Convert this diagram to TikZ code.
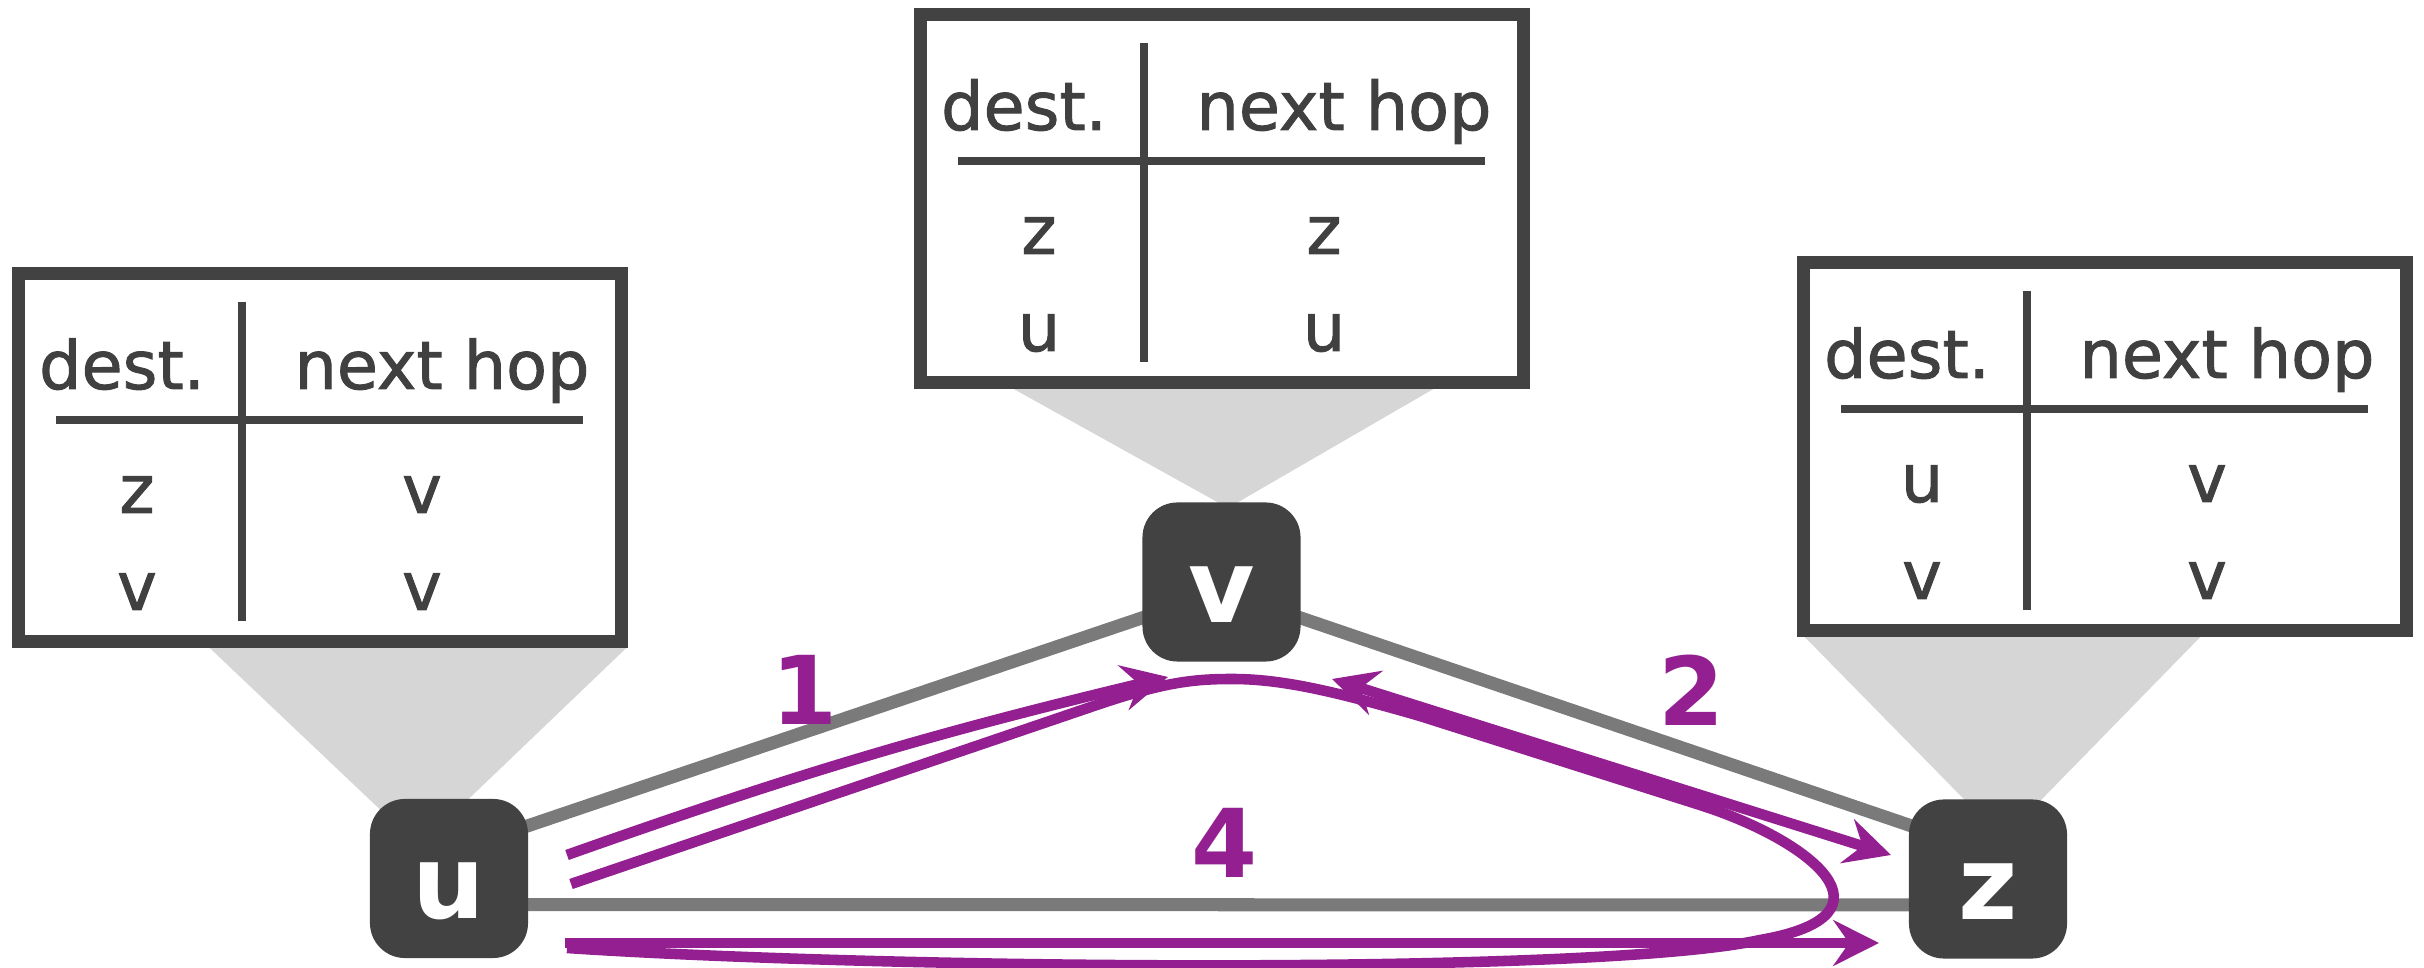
\documentclass[tikz,border=0pt]{standalone}
\usepackage{fontspec}
\setmainfont{DejaVu Sans}
\newfontfamily\handfont{DejaVu Sans}[FakeBold=1.4]
\usetikzlibrary{arrows.meta, calc, backgrounds}

\definecolor{nodegray}{HTML}{424242}
\definecolor{edgegray}{HTML}{7A7A7A}
\definecolor{shadegray}{HTML}{D6D6D6}
\definecolor{hoppurple}{HTML}{931F91}
\definecolor{textgray}{HTML}{404040}

\tikzset{
  tablebox/.style={draw=nodegray, line width=3.7pt, fill=white,
                   minimum width=6.03cm, minimum height=3.68cm, inner sep=0pt},
  tableline/.style={draw=nodegray, line width=2.1pt},
  celltext/.style={anchor=base, inner sep=0pt, text=textgray,
                   font=\fontsize{19}{19}\handfont},
  router/.style={fill=nodegray, rounded corners=0.35cm,
                 minimum width=1.58cm, minimum height=1.59cm, inner sep=0pt,
                 text=white, font=\fontsize{29}{29}\selectfont\bfseries,
                 text height=0.8cm, text depth=0pt},
  link/.style={draw=edgegray, line width=3.7pt},
  hop/.style={draw=hoppurple, line width=3pt},
  hoplabel/.style={inner sep=0pt, text=hoppurple,
                   font=\fontsize{27}{27}\selectfont\bfseries}
}

\begin{document}
\begin{tikzpicture}[x=0.01cm, y=-0.01cm,
  >={Stealth[length=13pt, width=13pt, inset=4.5pt]}]

\useasboundingbox (0,0) rectangle (2424,968);

% routing tables
\foreach \tab/\ox/\oy/\da/\ha/\db/\hb in {
  tu/12/267/z/v/v/v,
  tv/914/8/z/z/u/u,
  tz/1797/256/u/v/v/v
}{
  \node[tablebox] (\tab) at ({\ox+308},{\oy+190.5}) {};
  \draw[tableline] ({\ox+230},{\oy+35}) -- ({\ox+230},{\oy+354});
  \draw[tableline] ({\ox+44},{\oy+153}) -- ({\ox+571},{\oy+153});
  \node[celltext] (\tab-dest) at ({\ox+110},{\oy+122}) {dest.};
  \node[celltext] (\tab-hop) at ({\ox+430},{\oy+122}) {next hop};
  \node[celltext] (\tab-d1) at ({\ox+125},{\oy+246}) {\da};
  \node[celltext] (\tab-h1) at ({\ox+410},{\oy+246}) {\ha};
  \node[celltext] (\tab-d2) at ({\ox+125},{\oy+343}) {\db};
  \node[celltext] (\tab-h2) at ({\ox+410},{\oy+343}) {\hb};
}

% routers
\node[router] (u) at (449,878.5) {u};
\node[router] (v) at (1221.5,582) {v};
\node[router] (z) at (1988,879) {z};

\begin{scope}[on background layer]
  \fill[shadegray] ($(tu.south west)+(198,0)$) -- ($(tu.south east)+(-2,0)$)
    -- ($(u.center)+(-30,-32)$) -- cycle;
  \fill[shadegray] ($(tv.south west)+(100,0)$) -- ($(tv.south east)+(-97,0)$)
    -- ($(v.center)+(6.5,-74)$) -- cycle;
  \fill[shadegray] ($(tz.south west)+(8,0)$) -- ($(tz.south east)+(-213,0)$)
    -- ($(z.center)+(15,-40)$) -- cycle;

  \draw[link] ($(u.center)+(0,-26)$) -- ($(v.center)+(0,9)$)
    -- ($(z.center)+(0,-27)$);
  \draw[link] ($(u.center)+(0,26)$) -- ($(z.center)+(0,26)$);
\end{scope}

% packet path
\coordinate (uA) at (567,855);
\coordinate (uB) at (571,884);
\coordinate (uC) at (565,943);
\coordinate (vL) at (1168,677);
\coordinate (vR) at (1332,679);
\coordinate (zA) at (1891,855);
\coordinate (zB) at (1879,943);

\draw[hop, ->] (uA) to[bend left=3] (vL);
\draw[hop, <->] (vR) -- (zA);
\draw[hop] (uB) -- (1085,709) .. controls (1160,683) and (1190,679) .. (1232,679)
  .. controls (1280,679) and (1330,690) .. (1420,716) -- (1700,805)
  .. controls (1810,840) and (1905,915) .. (1760,940)
  .. controls (1600,975) and (900,970) .. (567,948);
\draw[hop, ->] (uC) -- (zB);

\node[hoplabel] (n1) at (805,690) {1};
\node[hoplabel] (n2) at (1692,690) {2};
\node[hoplabel] (n4) at (1225,843) {4};

\end{tikzpicture}
\end{document}
